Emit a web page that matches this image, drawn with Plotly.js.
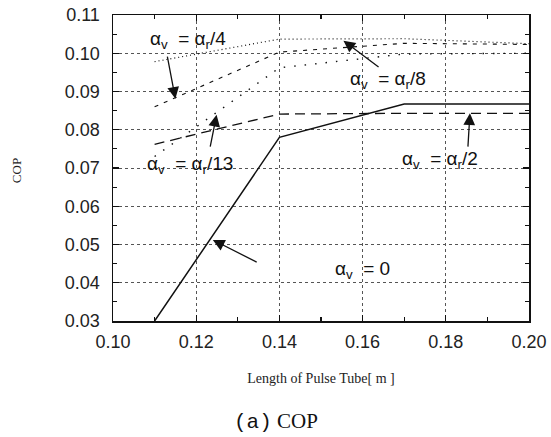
<!DOCTYPE html>
<html>
<head>
<meta charset="utf-8">
<script src="https://cdn.plot.ly/plotly-3.0.1.min.js"></script>
<style>html,body{margin:0;padding:0;background:#fff;}#chart{width:551px;height:437px;}</style>
</head>
<body>
<div id="chart"></div>
<script>
// Data
const tubeLength = [0.11, 0.14, 0.17, 0.20];
const copZero   = [0.030, 0.078, 0.0867, 0.0867];   // αv = 0
const copR2     = [0.0762, 0.0841, 0.0843, 0.0843]; // αv = αr/2
const copR4     = [0.0860, 0.1003, 0.1026, 0.1023]; // αv = αr/4
const copR8     = [0.0978, 0.1037, 0.1038, 0.1025]; // αv = αr/8
const copR13    = [0.0730, 0.0962, 0.0998, 0.1000]; // αv = αr/13
const xTicks = [0.10, 0.12, 0.14, 0.16, 0.18, 0.20];
const yTicks = [0.03, 0.04, 0.05, 0.06, 0.07, 0.08, 0.09, 0.10, 0.11];

function line(y, dash, w) {
  return {x: tubeLength, y: y, mode: 'lines', type: 'scatter',
    line: {color: '#111', width: w, dash: dash}, showlegend: false, hoverinfo: 'skip'};
}
const traces = [
  line(copZero, 'solid', 1.5),
  line(copR2, '10px,6px', 1.3),
  line(copR4, '4px,6px', 1.1),
  line(copR8, '1px,3px', 1.2),
  line(copR13, '1.5px,9px', 1.4)
];

const lblFont = {family: 'Liberation Sans, Arial, sans-serif', size: 19, color: '#111'};
const sp = '\u00a0';
function label(text, x, y) {
  return {text: text, x: x, y: y, xref: 'x', yref: 'y', showarrow: false,
    font: lblFont, xanchor: 'center', yanchor: 'middle'};
}
function arrow(x, y, ax, ay) {
  return {text: '', x: x, y: y, ax: ax, ay: ay, xref: 'x', yref: 'y', axref: 'x', ayref: 'y',
    showarrow: true, arrowhead: 2, arrowsize: 1.8, arrowwidth: 1.3, arrowcolor: '#111', standoff: 0};
}

const annotations = [
  label('α<sub>v</sub>' + sp + ' = α<sub>r</sub>/4', 0.118, 0.1035),
  label('α<sub>v</sub>' + sp + ' = α<sub>r</sub>/8', 0.1661, 0.0930),
  label('α<sub>v</sub>' + sp + ' = α<sub>r</sub>/13', 0.1185, 0.0708),
  label('α<sub>v</sub>' + sp + ' = α<sub>r</sub>/2', 0.1786, 0.0721),
  label('α<sub>v</sub>' + sp + ' = 0', 0.1599, 0.0433),
  arrow(0.1150, 0.0881, 0.1130, 0.0995),
  arrow(0.1554, 0.1033, 0.1642, 0.0961),
  arrow(0.1249, 0.0839, 0.1233, 0.0752),
  arrow(0.1858, 0.0843, 0.1853, 0.0752),
  arrow(0.1240, 0.0512, 0.1349, 0.0452),
  {text: '<span style="font-family:Liberation Mono, monospace">(a)</span>' + sp + '<span style="font-family:Liberation Serif, serif">COP</span>',
   xref: 'paper', yref: 'paper', x: 0.393, y: -0.33, showarrow: false,
   xanchor: 'center', yanchor: 'middle',
   font: {family: 'Liberation Serif, Times New Roman, serif', size: 21, color: '#111'}},
  {text: 'COP', xref: 'paper', yref: 'paper', x: -0.233, y: 0.49, showarrow: false,
   xanchor: 'center', yanchor: 'middle', textangle: -90,
   font: {family: 'Liberation Serif, Times New Roman, serif', size: 13, color: '#222'}}
];

const axisCommon = {
  showline: true, linecolor: '#111', linewidth: 1.5, mirror: 'allticks',
  ticks: 'inside', ticklen: 6, tickwidth: 1.2, tickcolor: '#111',
  showgrid: true, gridcolor: '#555', griddash: 'dot', gridwidth: 1,
  zeroline: false,
  tickfont: {family: 'Liberation Sans, Arial, sans-serif', size: 18, color: '#222'},
  tickformat: '.2f'
};

const layout = {
  width: 551, height: 437,
  margin: {l: 113, r: 22, t: 15, b: 116},
  paper_bgcolor: '#fff', plot_bgcolor: '#fff',
  xaxis: Object.assign({}, axisCommon, {
    range: [0.10, 0.20], tickvals: xTicks, ticklabelstandoff: 4,
    minor: {dtick: 0.01, ticks: 'inside', ticklen: 4, tickcolor: '#111', showgrid: false},
    title: {text: 'Length of Pulse Tube[ m ]', standoff: 22,
      font: {family: 'Liberation Serif, Times New Roman, serif', size: 14, color: '#222'}}
  }),
  yaxis: Object.assign({}, axisCommon, {
    range: [0.03, 0.11], tickvals: yTicks, ticklabelstandoff: 8,
    minor: {dtick: 0.005, ticks: 'inside', ticklen: 4, tickcolor: '#111', showgrid: false}
  }),
  annotations: annotations,
  showlegend: false
};

Plotly.newPlot('chart', traces, layout, {staticPlot: true, displayModeBar: false});
</script>
</body>
</html>
